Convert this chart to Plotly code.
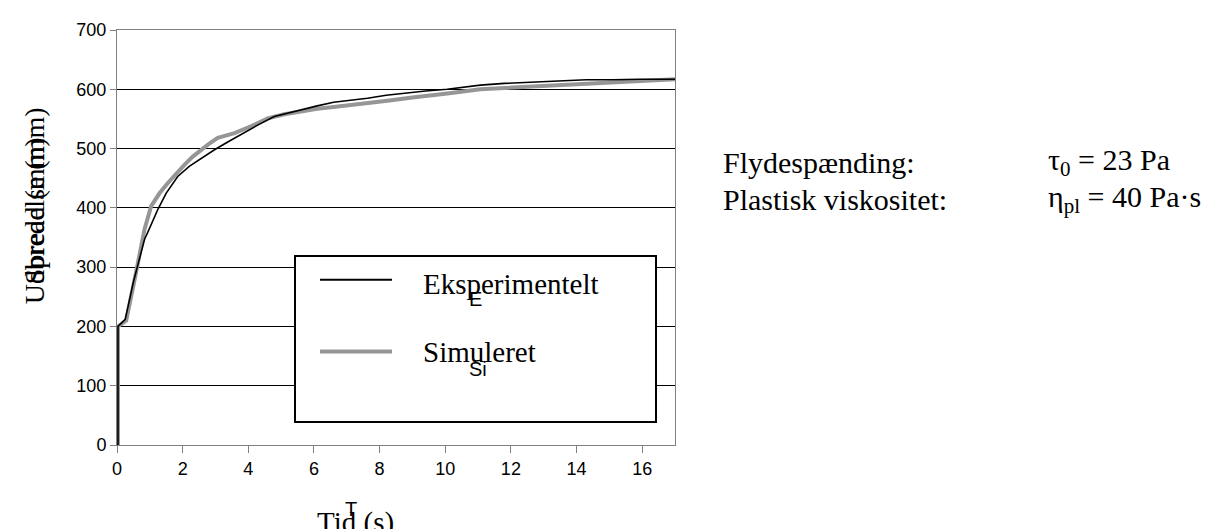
import plotly.graph_objects as go

# ---- data ----
t_exp = [0, 0.03, 0.03, 0.25, 0.5, 0.69, 0.84, 0.94, 1.1, 1.25, 1.5, 1.85, 2.2, 2.6, 2.97,
         3.4, 3.88, 4.3, 4.79, 5.2, 5.6, 6.1, 6.6, 7.1, 7.63, 8.2, 8.8, 9.4, 10.06, 10.6,
         11.07, 11.8, 12.58, 13.4, 14.3, 15.1, 15.9, 17.0]
y_exp = [0, 0, 200, 212, 275, 314, 347, 359, 380, 398, 425, 453, 470, 485, 498,
         512, 527, 540, 554, 560, 565, 572, 578, 581, 585, 590, 594, 597, 600, 604,
         607, 610, 612, 614, 616, 616, 617, 617]

t_sim = [0, 0.03, 0.03, 0.15, 0.28, 0.54, 0.84, 1.04, 1.3, 1.55, 1.8, 2.06, 2.3, 2.56, 2.8,
         3.07, 3.3, 3.58, 4.1, 4.59, 5.1, 5.6, 6.1, 6.6, 7.1, 7.63, 8.3, 9.0, 9.5, 10.06,
         11.07, 11.8, 12.58, 13.4, 14.3, 15.1, 15.9, 17.0]
y_sim = [0, 0, 200, 204, 210, 280, 364, 403, 425, 442, 458, 473, 486, 498, 508,
         518, 521, 526, 538, 551, 558, 563, 567, 570, 573, 576, 581, 586, 590, 593,
         600, 602, 604, 607, 610, 612, 614, 617]

x_ticks = [0, 2, 4, 6, 8, 10, 12, 14, 16]
y_ticks = [0, 100, 200, 300, 400, 500, 600, 700]

series_names = ["Eksperimentelt", "Simuleret"]
x_title = "Tid (s)"
y_title = "Udbredelse (mm)"
y_title_hidden = "Spread (mm)"
param_labels = ["Flydespænding:", "Plastisk viskositet:"]
param_values = ["τ<sub>0</sub> = 23 Pa", "η<sub>pl</sub> = 40 Pa·s"]

# ---- layout geometry (pixels) ----
W, H = 1231, 529
L, R, T, B = 109, 667, 20, 437
pw, ph = R - L, B - T


def px(x):
    return (x - L) / pw


def py(y):
    return (B - y) / ph


SERIF = "Liberation Serif, Times New Roman, serif"
SANS = "Liberation Sans, Arial, sans-serif"
GRAY = "#969696"

fig = go.Figure()
fig.add_trace(go.Scatter(x=t_sim, y=y_sim, mode="lines", name=series_names[1],
                         line=dict(color=GRAY, width=4), showlegend=False))
fig.add_trace(go.Scatter(x=t_exp, y=y_exp, mode="lines", name=series_names[0],
                         line=dict(color="black", width=1.6), showlegend=False))

fig.update_layout(
    width=W, height=H,
    margin=dict(l=L, r=W - R, t=T, b=H - B, pad=0),
    plot_bgcolor="white", paper_bgcolor="white",
    font=dict(family=SANS, size=18, color="black"),
    xaxis=dict(range=[0, 17], tickvals=x_ticks, showgrid=False, zeroline=False,
               showline=True, linecolor="#808080", linewidth=1, mirror=True,
               ticks="outside", ticklen=7, tickcolor="#808080", tickwidth=1,
               tickfont=dict(family=SANS, size=18, color="black")),
    yaxis=dict(range=[0, 700], tickvals=y_ticks, showgrid=True, gridcolor="black",
               gridwidth=1, zeroline=False,
               showline=True, linecolor="#808080", linewidth=1, mirror=True,
               ticks="outside", ticklen=6, tickcolor="#808080", tickwidth=1,
               tickfont=dict(family=SANS, size=18, color="black")),
)

shapes = []
# legend box
shapes.append(dict(type="rect", xref="paper", yref="paper",
                   x0=px(287), x1=px(648), y0=py(414), y1=py(247),
                   line=dict(color="black", width=2), fillcolor="white", layer="above"))
shapes.append(dict(type="line", xref="paper", yref="paper",
                   x0=px(312), x1=px(384), y0=py(271), y1=py(271),
                   line=dict(color="black", width=2), layer="above"))
shapes.append(dict(type="line", xref="paper", yref="paper",
                   x0=px(312), x1=px(384), y0=py(343), y1=py(343),
                   line=dict(color=GRAY, width=4), layer="above"))
fig.update_layout(shapes=shapes)

ann = []
ann.append(dict(text=series_names[0], x=px(413), y=py(275), xref="paper", yref="paper",
                xanchor="left", yanchor="middle", showarrow=False,
                font=dict(family=SERIF, size=29, color="black")))
ann.append(dict(text=series_names[1], x=px(413), y=py(344), xref="paper", yref="paper",
                xanchor="left", yanchor="middle", showarrow=False,
                font=dict(family=SERIF, size=29, color="black")))
ann.append(dict(text="E", x=px(459), y=py(290), xref="paper", yref="paper",
                xanchor="left", yanchor="middle", showarrow=False,
                font=dict(family=SANS, size=20, color="black")))
ann.append(dict(text="Si", x=px(459), y=py(361), xref="paper", yref="paper",
                xanchor="left", yanchor="middle", showarrow=False,
                font=dict(family=SANS, size=20, color="black")))
# axis titles
ann.append(dict(text=x_title, x=px(307), y=py(496), xref="paper", yref="paper",
                xanchor="left", yanchor="top", showarrow=False,
                font=dict(family=SERIF, size=29, color="black")))
ann.append(dict(text="T", x=px(335), y=py(488), xref="paper", yref="paper",
                xanchor="left", yanchor="top", showarrow=False,
                font=dict(family=SANS, size=20, color="black")))
ann.append(dict(text=y_title, x=px(26), y=py(298), xref="paper", yref="paper",
                xanchor="center", yanchor="bottom", textangle=-90, showarrow=False,
                font=dict(family=SERIF, size=28, color="black")))
ann.append(dict(text=y_title_hidden, x=px(26), y=py(278), xref="paper", yref="paper",
                xanchor="center", yanchor="bottom", textangle=-90, showarrow=False,
                font=dict(family=SERIF, size=28, color="black")))
# parameters text
for i, (lab, val) in enumerate(zip(param_labels, param_values)):
    yy = 153 + i * 37
    ann.append(dict(text=lab, x=px(713), y=py(yy), xref="paper", yref="paper",
                    xanchor="left", yanchor="middle", showarrow=False,
                    font=dict(family=SERIF, size=30, color="black")))
    ann.append(dict(text=val, x=px(1038), y=py(yy), xref="paper", yref="paper",
                    xanchor="left", yanchor="middle", showarrow=False,
                    font=dict(family=SERIF, size=30, color="black")))
fig.update_layout(annotations=ann)

fig.write_html("out.html")
